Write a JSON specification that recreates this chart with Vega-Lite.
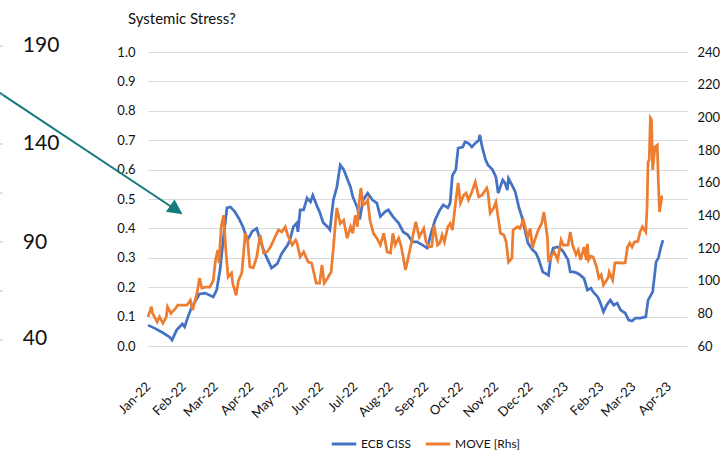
{
  "$schema": "https://vega.github.io/schema/vega-lite/v6.json",
  "width": 539,
  "height": 294,
  "autosize": {"type": "none"},
  "padding": {"left": 148, "top": 52, "right": 34, "bottom": 109},
  "background": "white",
  "config": {
    "view": {"stroke": null},
    "font": "Lato",
    "axis": {"labelFont": "Lato", "labelColor": "#111111", "labelFontSize": 13, "domain": false, "ticks": false, "titleFont": "Lato", "labelOverlap": false, "labelFlush": false},
    "legend": {"labelFont": "Lato", "labelFontSize": 12, "labelColor": "#111111"}
  },
  "title": {"text": "Systemic Stress?", "anchor": "start", "frame": "group", "dx": -20, "offset": 8, "fontSize": 15, "fontWeight": "normal", "font": "Lato", "color": "#111111"},
  "datasets": {
    "ciss": [
      {"date":"2022-01-01","value":0.071},{"date":"2022-01-07","value":0.06},{"date":"2022-01-14","value":0.045},{"date":"2022-01-20","value":0.03},{"date":"2022-01-22","value":0.02},{"date":"2022-01-26","value":0.054},{"date":"2022-01-31","value":0.075},{"date":"2022-02-02","value":0.065},{"date":"2022-02-05","value":0.1},{"date":"2022-02-08","value":0.13},{"date":"2022-02-11","value":0.15},{"date":"2022-02-15","value":0.177},{"date":"2022-02-20","value":0.18},{"date":"2022-02-27","value":0.167},{"date":"2022-03-02","value":0.19},{"date":"2022-03-05","value":0.26},{"date":"2022-03-08","value":0.37},{"date":"2022-03-11","value":0.47},{"date":"2022-03-14","value":0.473},{"date":"2022-03-18","value":0.456},{"date":"2022-03-22","value":0.43},{"date":"2022-03-25","value":0.405},{"date":"2022-03-29","value":0.36},{"date":"2022-04-02","value":0.39},{"date":"2022-04-06","value":0.40},{"date":"2022-04-09","value":0.36},{"date":"2022-04-13","value":0.316},{"date":"2022-04-19","value":0.265},{"date":"2022-04-24","value":0.28},{"date":"2022-04-28","value":0.316},{"date":"2022-05-03","value":0.343},{"date":"2022-05-05","value":0.36},{"date":"2022-05-08","value":0.405},{"date":"2022-05-11","value":0.418},{"date":"2022-05-12","value":0.388},{"date":"2022-05-14","value":0.463},{"date":"2022-05-17","value":0.463},{"date":"2022-05-20","value":0.503},{"date":"2022-05-23","value":0.49},{"date":"2022-05-25","value":0.513},{"date":"2022-05-29","value":0.473},{"date":"2022-05-31","value":0.456},{"date":"2022-06-03","value":0.42},{"date":"2022-06-07","value":0.405},{"date":"2022-06-09","value":0.395},{"date":"2022-06-12","value":0.497},{"date":"2022-06-15","value":0.54},{"date":"2022-06-18","value":0.616},{"date":"2022-06-21","value":0.6},{"date":"2022-06-24","value":0.57},{"date":"2022-06-27","value":0.54},{"date":"2022-06-29","value":0.507},{"date":"2022-07-03","value":0.47},{"date":"2022-07-05","value":0.43},{"date":"2022-07-08","value":0.497},{"date":"2022-07-12","value":0.52},{"date":"2022-07-16","value":0.497},{"date":"2022-07-20","value":0.486},{"date":"2022-07-23","value":0.44},{"date":"2022-07-27","value":0.456},{"date":"2022-07-30","value":0.463},{"date":"2022-08-03","value":0.44},{"date":"2022-08-08","value":0.418},{"date":"2022-08-12","value":0.388},{"date":"2022-08-16","value":0.378},{"date":"2022-08-20","value":0.354},{"date":"2022-08-24","value":0.354},{"date":"2022-08-29","value":0.343},{"date":"2022-09-02","value":0.333},{"date":"2022-09-05","value":0.378},{"date":"2022-09-09","value":0.43},{"date":"2022-09-13","value":0.463},{"date":"2022-09-16","value":0.48},{"date":"2022-09-20","value":0.47},{"date":"2022-09-22","value":0.486},{"date":"2022-09-24","value":0.58},{"date":"2022-09-27","value":0.6},{"date":"2022-09-29","value":0.673},{"date":"2022-10-03","value":0.677},{"date":"2022-10-05","value":0.694},{"date":"2022-10-08","value":0.69},{"date":"2022-10-11","value":0.677},{"date":"2022-10-14","value":0.69},{"date":"2022-10-17","value":0.70},{"date":"2022-10-18","value":0.718},{"date":"2022-10-20","value":0.677},{"date":"2022-10-23","value":0.633},{"date":"2022-10-25","value":0.616},{"date":"2022-10-29","value":0.6},{"date":"2022-11-01","value":0.575},{"date":"2022-11-03","value":0.52},{"date":"2022-11-07","value":0.565},{"date":"2022-11-09","value":0.554},{"date":"2022-11-11","value":0.53},{"date":"2022-11-12","value":0.57},{"date":"2022-11-15","value":0.548},{"date":"2022-11-18","value":0.524},{"date":"2022-11-21","value":0.473},{"date":"2022-11-24","value":0.435},{"date":"2022-11-27","value":0.384},{"date":"2022-11-29","value":0.35},{"date":"2022-12-03","value":0.327},{"date":"2022-12-06","value":0.316},{"date":"2022-12-08","value":0.299},{"date":"2022-12-12","value":0.252},{"date":"2022-12-14","value":0.248},{"date":"2022-12-17","value":0.24},{"date":"2022-12-19","value":0.303},{"date":"2022-12-21","value":0.333},{"date":"2022-12-25","value":0.337},{"date":"2022-12-27","value":0.333},{"date":"2022-12-30","value":0.32},{"date":"2023-01-03","value":0.293},{"date":"2023-01-05","value":0.252},{"date":"2023-01-08","value":0.252},{"date":"2023-01-11","value":0.248},{"date":"2023-01-14","value":0.24},{"date":"2023-01-17","value":0.23},{"date":"2023-01-20","value":0.19},{"date":"2023-01-23","value":0.197},{"date":"2023-01-25","value":0.184},{"date":"2023-01-29","value":0.167},{"date":"2023-01-31","value":0.15},{"date":"2023-02-03","value":0.116},{"date":"2023-02-05","value":0.133},{"date":"2023-02-07","value":0.146},{"date":"2023-02-09","value":0.156},{"date":"2023-02-12","value":0.139},{"date":"2023-02-15","value":0.146},{"date":"2023-02-18","value":0.122},{"date":"2023-02-22","value":0.112},{"date":"2023-02-25","value":0.088},{"date":"2023-02-28","value":0.085},{"date":"2023-03-03","value":0.095},{"date":"2023-03-07","value":0.095},{"date":"2023-03-12","value":0.099},{"date":"2023-03-14","value":0.156},{"date":"2023-03-18","value":0.184},{"date":"2023-03-21","value":0.286},{"date":"2023-03-23","value":0.299},{"date":"2023-03-25","value":0.333},{"date":"2023-03-27","value":0.36}
    ],
    "move": [
      {"date":"2022-01-01","value":77.8},{"date":"2022-01-04","value":84},{"date":"2022-01-05","value":80},{"date":"2022-01-09","value":74.7},{"date":"2022-01-11","value":77.8},{"date":"2022-01-14","value":74},{"date":"2022-01-17","value":77.8},{"date":"2022-01-18","value":84},{"date":"2022-01-21","value":80},{"date":"2022-01-25","value":83},{"date":"2022-01-27","value":85},{"date":"2022-02-01","value":85},{"date":"2022-02-04","value":85},{"date":"2022-02-07","value":88},{"date":"2022-02-09","value":82},{"date":"2022-02-13","value":93},{"date":"2022-02-15","value":101.6},{"date":"2022-02-17","value":95.5},{"date":"2022-02-20","value":96},{"date":"2022-02-24","value":96},{"date":"2022-02-27","value":100},{"date":"2022-03-01","value":112.7},{"date":"2022-03-03","value":118.8},{"date":"2022-03-04","value":110.8},{"date":"2022-03-06","value":133},{"date":"2022-03-08","value":140},{"date":"2022-03-10","value":118.8},{"date":"2022-03-12","value":102.3},{"date":"2022-03-15","value":104.7},{"date":"2022-03-16","value":98.5},{"date":"2022-03-19","value":91},{"date":"2022-03-21","value":100},{"date":"2022-03-24","value":104.7},{"date":"2022-03-27","value":129},{"date":"2022-03-29","value":124.9},{"date":"2022-03-31","value":108.4},{"date":"2022-04-03","value":107.8},{"date":"2022-04-06","value":114.5},{"date":"2022-04-09","value":128},{"date":"2022-04-12","value":117},{"date":"2022-04-15","value":117.6},{"date":"2022-04-18","value":120.6},{"date":"2022-04-22","value":126.7},{"date":"2022-04-25","value":131},{"date":"2022-04-28","value":129.8},{"date":"2022-05-01","value":133},{"date":"2022-05-03","value":128},{"date":"2022-05-07","value":121.8},{"date":"2022-05-10","value":124.9},{"date":"2022-05-11","value":123.7},{"date":"2022-05-14","value":114.5},{"date":"2022-05-17","value":117.6},{"date":"2022-05-19","value":114.5},{"date":"2022-05-21","value":111.4},{"date":"2022-05-24","value":110.8},{"date":"2022-05-28","value":98.5},{"date":"2022-05-31","value":98.5},{"date":"2022-06-02","value":109.6},{"date":"2022-06-04","value":98.5},{"date":"2022-06-07","value":101.6},{"date":"2022-06-10","value":105.3},{"date":"2022-06-12","value":120},{"date":"2022-06-14","value":137},{"date":"2022-06-15","value":144.5},{"date":"2022-06-18","value":135},{"date":"2022-06-21","value":137},{"date":"2022-06-24","value":126},{"date":"2022-06-27","value":133},{"date":"2022-06-29","value":129},{"date":"2022-07-01","value":140},{"date":"2022-07-03","value":133},{"date":"2022-07-04","value":144.5},{"date":"2022-07-06","value":156.7},{"date":"2022-07-08","value":146.4},{"date":"2022-07-11","value":148},{"date":"2022-07-12","value":149.4},{"date":"2022-07-14","value":137},{"date":"2022-07-17","value":129},{"date":"2022-07-20","value":126},{"date":"2022-07-23","value":121.8},{"date":"2022-07-26","value":129},{"date":"2022-07-29","value":117.6},{"date":"2022-08-01","value":117},{"date":"2022-08-03","value":129},{"date":"2022-08-05","value":121.8},{"date":"2022-08-08","value":126},{"date":"2022-08-10","value":121.8},{"date":"2022-08-12","value":114.5},{"date":"2022-08-14","value":106.6},{"date":"2022-08-16","value":112.7},{"date":"2022-08-20","value":126},{"date":"2022-08-23","value":136},{"date":"2022-08-26","value":126.7},{"date":"2022-08-30","value":132},{"date":"2022-09-01","value":123.7},{"date":"2022-09-04","value":120.6},{"date":"2022-09-06","value":121},{"date":"2022-09-08","value":134},{"date":"2022-09-11","value":121.8},{"date":"2022-09-13","value":123},{"date":"2022-09-15","value":128},{"date":"2022-09-17","value":123.7},{"date":"2022-09-20","value":133},{"date":"2022-09-22","value":135},{"date":"2022-09-24","value":131},{"date":"2022-09-26","value":143.3},{"date":"2022-09-29","value":159.8},{"date":"2022-10-01","value":147.5},{"date":"2022-10-04","value":152.5},{"date":"2022-10-06","value":153.6},{"date":"2022-10-08","value":149.4},{"date":"2022-10-11","value":154.3},{"date":"2022-10-14","value":160.4},{"date":"2022-10-17","value":151.3},{"date":"2022-10-20","value":152.5},{"date":"2022-10-24","value":156.7},{"date":"2022-10-25","value":154.3},{"date":"2022-10-27","value":141.4},{"date":"2022-10-30","value":144.5},{"date":"2022-11-01","value":148},{"date":"2022-11-05","value":129},{"date":"2022-11-08","value":128},{"date":"2022-11-10","value":123.7},{"date":"2022-11-12","value":111.4},{"date":"2022-11-15","value":113.8},{"date":"2022-11-16","value":131},{"date":"2022-11-20","value":133},{"date":"2022-11-22","value":132},{"date":"2022-11-25","value":137},{"date":"2022-11-29","value":126.7},{"date":"2022-12-01","value":132},{"date":"2022-12-03","value":120},{"date":"2022-12-05","value":124.9},{"date":"2022-12-08","value":131},{"date":"2022-12-11","value":135},{"date":"2022-12-13","value":142},{"date":"2022-12-16","value":126.7},{"date":"2022-12-17","value":111.4},{"date":"2022-12-20","value":115.7},{"date":"2022-12-22","value":117.6},{"date":"2022-12-25","value":112.7},{"date":"2022-12-28","value":124.9},{"date":"2022-12-30","value":121.8},{"date":"2023-01-03","value":121.8},{"date":"2023-01-05","value":129.8},{"date":"2023-01-07","value":121.8},{"date":"2023-01-10","value":116},{"date":"2023-01-12","value":118.8},{"date":"2023-01-14","value":112.7},{"date":"2023-01-17","value":120.6},{"date":"2023-01-19","value":112.7},{"date":"2023-01-20","value":122.5},{"date":"2023-01-21","value":112.7},{"date":"2023-01-23","value":115},{"date":"2023-01-25","value":114.5},{"date":"2023-01-28","value":108.4},{"date":"2023-01-30","value":101.6},{"date":"2023-02-01","value":103.5},{"date":"2023-02-03","value":97.3},{"date":"2023-02-07","value":101.6},{"date":"2023-02-08","value":105.3},{"date":"2023-02-11","value":100.4},{"date":"2023-02-13","value":110.8},{"date":"2023-02-16","value":111},{"date":"2023-02-20","value":110.8},{"date":"2023-02-22","value":111},{"date":"2023-02-24","value":120.6},{"date":"2023-02-26","value":123},{"date":"2023-02-28","value":120.6},{"date":"2023-03-02","value":123.7},{"date":"2023-03-05","value":124},{"date":"2023-03-07","value":129.8},{"date":"2023-03-09","value":133},{"date":"2023-03-12","value":129.8},{"date":"2023-03-13","value":143.3},{"date":"2023-03-14","value":172.7},{"date":"2023-03-15","value":174},{"date":"2023-03-16","value":199.6},{"date":"2023-03-17","value":198.4},{"date":"2023-03-18","value":167.8},{"date":"2023-03-20","value":181.9},{"date":"2023-03-22","value":183},{"date":"2023-03-23","value":159.8},{"date":"2023-03-24","value":142},{"date":"2023-03-26","value":151.3},{"date":"2023-03-27","value":151.3}
    ],
    "arrow": [
      {"date":"2021-08-24T12:00:00Z","value":0.861},
      {"date":"2022-01-22T00:00:00Z","value":0.472}
    ],
    "arrowhead": [
      {"date":"2022-01-25T19:00:00Z","value":0.463}
    ],
    "straylabels": [
      {"date":"2021-09-13T14:00:00Z","value":1.02,"text":"190"},
      {"date":"2021-09-13T14:00:00Z","value":0.687,"text":"140"},
      {"date":"2021-09-13T14:00:00Z","value":0.352,"text":"90"},
      {"date":"2021-09-13T14:00:00Z","value":0.024,"text":"40"}
    ],
    "straydashes": [
      {"date":"2021-08-25T19:00:00Z","value":1.02},
      {"date":"2021-08-25T19:00:00Z","value":0.854},
      {"date":"2021-08-25T19:00:00Z","value":0.687},
      {"date":"2021-08-25T19:00:00Z","value":0.52},
      {"date":"2021-08-25T19:00:00Z","value":0.354},
      {"date":"2021-08-25T19:00:00Z","value":0.187},
      {"date":"2021-08-25T19:00:00Z","value":0.02}
    ]
  },
  "encoding": {
    "x": {"field": "date", "type": "temporal",
      "scale": {"type": "utc", "domain": [{"year": 2022, "month": 1, "date": 1, "utc": true}, {"year": 2023, "month": 4, "date": 17, "utc": true}]},
      "axis": {"title": null, "format": "%b-%y", "labelAngle": -45, "labelAlign": "right", "labelBaseline": "middle", "labelPadding": 38, "grid": false,
        "values": [
          {"year": 2022, "month": 1, "date": 1, "utc": true},{"year": 2022, "month": 2, "date": 1, "utc": true},{"year": 2022, "month": 3, "date": 1, "utc": true},{"year": 2022, "month": 4, "date": 1, "utc": true},{"year": 2022, "month": 5, "date": 1, "utc": true},{"year": 2022, "month": 6, "date": 1, "utc": true},{"year": 2022, "month": 7, "date": 1, "utc": true},{"year": 2022, "month": 8, "date": 1, "utc": true},{"year": 2022, "month": 9, "date": 1, "utc": true},{"year": 2022, "month": 10, "date": 1, "utc": true},{"year": 2022, "month": 11, "date": 1, "utc": true},{"year": 2022, "month": 12, "date": 1, "utc": true},{"year": 2023, "month": 1, "date": 1, "utc": true},{"year": 2023, "month": 2, "date": 1, "utc": true},{"year": 2023, "month": 3, "date": 1, "utc": true},{"year": 2023, "month": 4, "date": 1, "utc": true}
        ]}}
  },
  "layer": [
    {
      "encoding": {
        "y": {"field": "value", "type": "quantitative",
          "scale": {"domain": [0, 1], "nice": false, "zero": false},
          "axis": {"title": null, "format": ".1f", "values": [0, 0.1, 0.2, 0.3, 0.4, 0.5, 0.6, 0.7, 0.8, 0.9, 1.0], "grid": true, "gridColor": "#d9d9d9", "gridWidth": 1, "labelPadding": 13}}
      },
      "layer": [
        {
          "data": {"name": "ciss"},
          "mark": {"type": "line", "strokeWidth": 2.75, "clip": false},
          "encoding": {
            "color": {"datum": "ECB CISS", "type": "nominal",
              "scale": {"domain": ["ECB CISS", "MOVE [Rhs]"], "range": ["#4472C4", "#ED7D31"]},
              "legend": {"title": null, "orient": "none", "direction": "horizontal", "legendX": 182, "legendY": 378, "symbolType": "stroke", "symbolSize": 600, "symbolStrokeWidth": 3, "labelOffset": 3, "columnPadding": 8}}
          }
        },
        {
          "data": {"name": "arrow"},
          "mark": {"type": "line", "color": "#147a7c", "strokeWidth": 2, "clip": false},
          "encoding": {}
        },
        {
          "data": {"name": "arrowhead"},
          "mark": {"type": "point", "shape": "M -1 -1 L 1 0 L -1 1 Z", "size": 225, "angle": 35, "filled": true, "color": "#147a7c", "opacity": 1, "clip": false},
          "encoding": {}
        },
        {
          "data": {"name": "straylabels"},
          "mark": {"type": "text", "align": "left", "baseline": "middle", "fontSize": 21, "font": "Lato", "color": "#111111", "clip": false},
          "encoding": {"text": {"field": "text"}}
        },
        {
          "data": {"name": "straydashes"},
          "mark": {"type": "point", "shape": "stroke", "size": 9, "filled": false, "color": "#bfbfbf", "strokeWidth": 1, "opacity": 1, "clip": false},
          "encoding": {}
        }
      ]
    },
    {
      "data": {"name": "move"},
      "mark": {"type": "line", "strokeWidth": 2.75, "clip": false},
      "encoding": {
        "y": {"field": "value", "type": "quantitative",
          "scale": {"domain": [60, 240], "nice": false, "zero": false},
          "axis": {"title": null, "orient": "right", "values": [60, 80, 100, 120, 140, 160, 180, 200, 220, 240], "grid": false, "labelPadding": 10}},
        "color": {"datum": "MOVE [Rhs]", "type": "nominal"}
      }
    }
  ],
  "resolve": {"scale": {"y": "independent"}}
}
